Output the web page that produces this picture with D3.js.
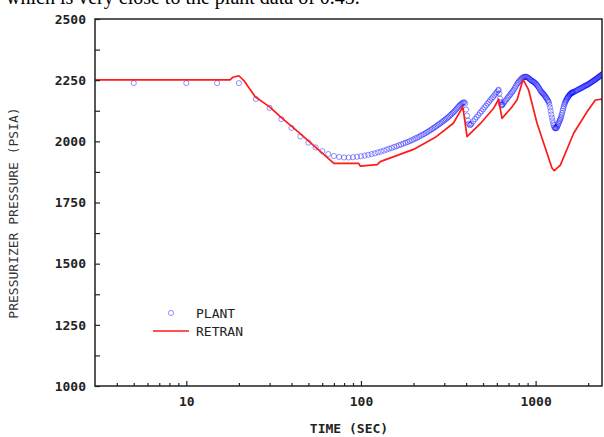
<!DOCTYPE html>
<html>
<head>
<meta charset="utf-8">
<script src="https://cdn.jsdelivr.net/npm/d3@7"></script>
<style>
  html, body { margin: 0; padding: 0; background: #fff; }
  svg { display: block; }
</style>
</head>
<body>
<svg id="chart" width="604" height="437"></svg>
<script>
// ---------------- DATA ----------------
const xMajorTicks = [10, 100, 1000];
const xMinorTicks = [4, 5, 6, 7, 8, 9, 20, 30, 40, 50, 60, 70, 80, 90, 200, 300, 400, 500, 600, 700, 800, 900, 2000];
const yMajorTicks = [1000, 1250, 1500, 1750, 2000, 2250, 2500];
const yMinorTicks = [1125, 1375, 1625, 1875, 2125, 2375];

const seriesNames = ["PLANT", "RETRAN"];

// PLANT measured data (time s, pressure psia)
const plantTime = [
  5, 10, 15, 20, 25, 30, 35, 40, 45, 50, 55, 60, 65, 70, 75, 80, 85, 90, 95, 100,
  105, 110, 115, 120, 125, 130, 135, 140, 145, 150, 155, 160, 165, 170, 175, 180, 185, 190, 195, 200,
  205, 210, 215, 220, 225, 230, 235, 240, 245, 250, 255, 260, 265, 270, 275, 280, 285, 290, 295, 300,
  305, 310, 315, 320, 325, 330, 335, 340, 345, 350, 355, 360, 365, 370, 375, 380, 385, 390, 395, 400,
  405, 410, 415, 420, 425, 430,
  440, 450, 460, 470, 480, 490, 500, 510, 520, 530, 540, 550, 560, 570, 580, 590, 600, 610, 615,
  620, 625, 630, 635, 640, 645, 650, 660, 670, 680, 690, 700, 710, 720, 730, 740, 750,
  760, 770, 780, 790, 800, 810, 820, 830, 840, 850, 860, 870, 880, 890, 900, 910, 920, 930, 940, 950,
  960, 970, 980, 990, 1000, 1010, 1020, 1030, 1040, 1050, 1060, 1070, 1080, 1090, 1100, 1110, 1120, 1130, 1140, 1150,
  1160, 1170, 1180, 1190, 1200, 1210, 1220, 1230, 1240, 1250, 1260, 1270, 1280, 1290, 1300, 1310, 1320, 1330, 1340, 1350,
  1360, 1370, 1380, 1390, 1400, 1410, 1420, 1430, 1440, 1450, 1460, 1470, 1480, 1490, 1500, 1510, 1520, 1530, 1540, 1550,
  1560, 1570, 1580, 1590, 1600, 1610, 1620, 1630, 1640, 1660, 1680, 1700, 1720, 1740, 1760, 1780, 1800, 1820, 1840, 1860,
  1880, 1900, 1920, 1940, 1960, 1980, 2000, 2020, 2040, 2060, 2080, 2100, 2120, 2140, 2160, 2180, 2200, 2220, 2240, 2260,
  2280, 2300, 2320, 2340, 2360, 2380, 2400, 2420, 2440
];
const plantPsia = [
  2238, 2238, 2238, 2238, 2173, 2137, 2091, 2055, 2020, 1995, 1975, 1960, 1948, 1940, 1936, 1934, 1934, 1935, 1937, 1939,
  1942, 1945, 1948, 1951, 1955, 1958, 1962, 1966, 1970, 1973, 1977, 1980, 1984, 1987, 1991, 1994, 1997, 2001, 2004, 2008,
  2012, 2015, 2019, 2023, 2027, 2030, 2034, 2038, 2042, 2046, 2050, 2054, 2058, 2062, 2066, 2070, 2074, 2078, 2082, 2086,
  2090, 2094, 2098, 2102, 2107, 2111, 2116, 2120, 2125, 2130, 2135, 2140, 2145, 2149, 2153, 2156, 2158, 2160, 2155, 2130,
  2105, 2085, 2072, 2066, 2068, 2072,
  2082, 2091, 2099, 2107, 2116, 2123, 2131, 2139, 2146, 2154, 2161, 2168, 2175, 2181, 2188, 2195, 2201, 2208, 2211,
  2195, 2175, 2160, 2150, 2147, 2149, 2153, 2159, 2165, 2171, 2177, 2183, 2188, 2194, 2200, 2205, 2211,
  2218, 2225, 2232, 2238, 2243, 2248, 2252, 2256, 2259, 2262, 2263, 2264, 2264, 2263, 2261, 2259, 2256, 2253, 2250, 2248,
  2246, 2244, 2242, 2239, 2236, 2233, 2229, 2225, 2221, 2216, 2211, 2206, 2202, 2199, 2196, 2193, 2190, 2186, 2182, 2178,
  2174, 2169, 2165, 2160, 2150, 2138, 2124, 2110, 2097, 2085, 2074, 2065, 2058, 2054, 2053, 2054, 2056, 2060, 2065, 2071,
  2077, 2083, 2088, 2093, 2100, 2108, 2116, 2125, 2134, 2142, 2150, 2156, 2162, 2166, 2170, 2174, 2177, 2180, 2183, 2186,
  2189, 2191, 2193, 2195, 2197, 2198, 2199, 2200, 2201, 2203, 2204, 2206, 2208, 2210, 2212, 2214, 2216, 2217, 2219, 2221,
  2223, 2225, 2227, 2228, 2230, 2231, 2233, 2235, 2237, 2239, 2241, 2243, 2245, 2247, 2249, 2251, 2253, 2255, 2257, 2259,
  2261, 2263, 2265, 2267, 2269, 2271, 2273, 2275, 2277
];

// RETRAN calculation (time s, pressure psia)
const retranTime = [3, 17.8, 18.5, 20, 21.5, 24.8, 30, 34.5, 43.7, 70, 97, 99, 124, 129, 200, 270, 338, 383,
  405, 482, 575, 614, 642, 733, 783, 847, 912, 1019, 1163, 1242, 1280, 1386, 1652, 1971, 2200, 2455];
const retranPsia = [2251, 2251, 2262, 2268, 2246, 2182, 2141, 2101, 2039, 1910, 1910, 1899, 1905, 1917, 1967, 2019, 2074, 2141,
  2019, 2072, 2135, 2172, 2094, 2141, 2169, 2253, 2210, 2074, 1951, 1890, 1880, 1903, 2033, 2121, 2169, 2173];

// ---------------- CHART ----------------
const svg = d3.select("#chart");
const mLeft = 95, mRight = 602, mTop = 19, mBottom = 386;

const x = d3.scaleLog().domain([3, 2400]).range([mLeft, mRight]);
const y = d3.scaleLinear().domain([1000, 2500]).range([mBottom, mTop]);

const monoFont = "'DejaVu Sans Mono', 'Liberation Mono', monospace";

// caption fragment above the chart (cut off at the top, as in the source)
svg.append("text")
  .attr("x", 6).attr("y", 4)
  .attr("font-family", "'Liberation Serif', 'Times New Roman', serif")
  .attr("font-size", 20)
  .attr("fill", "#000")
  .text("which is very close to the plant data of 0.45.");

const plot = svg.append("g");
plot.append("clipPath").attr("id", "clip")
  .append("rect").attr("x", mLeft).attr("y", mTop).attr("width", mRight - mLeft).attr("height", mBottom - mTop);

const dataG = plot.append("g").attr("clip-path", "url(#clip)");

// PLANT circles
const plant = plantTime.map((t, i) => ({ t, p: plantPsia[i] }));
dataG.append("g").selectAll("circle").data(plant).join("circle")
  .attr("cx", d => x(d.t)).attr("cy", d => y(d.p))
  .attr("r", 2.6)
  .attr("fill", "none")
  .attr("stroke", "#0000ff")
  .attr("stroke-opacity", 0.42)
  .attr("stroke-width", 1);

// RETRAN line
const retran = retranTime.map((t, i) => ({ t, p: retranPsia[i] }));
dataG.append("path").datum(retran)
  .attr("fill", "none")
  .attr("stroke", "#ff1a1a")
  .attr("stroke-width", 1.7)
  .attr("stroke-linejoin", "round")
  .attr("d", d3.line().x(d => x(d.t)).y(d => y(d.p)));

// Axes
const xAxisMajor = d3.axisBottom(x).tickValues(xMajorTicks).tickSize(-5).tickPadding(11).tickFormat(d3.format("d"));
const xAxisMinor = d3.axisBottom(x).tickValues(xMinorTicks).tickSize(-3).tickFormat("");
const yAxisMajor = d3.axisLeft(y).tickValues(yMajorTicks).tickSize(-5).tickPadding(9).tickFormat(d3.format("d"));
const yAxisMinor = d3.axisLeft(y).tickValues(yMinorTicks).tickSize(-5).tickFormat("");

function styleAxis(g) {
  g.select(".domain").remove();
  g.selectAll(".tick line").attr("stroke", "#222").attr("stroke-width", 1.2);
  g.selectAll(".tick text").attr("font-family", monoFont).attr("font-size", 13)
    .attr("font-weight", "bold").attr("fill", "#222");
}

svg.append("g").attr("transform", `translate(0,${mBottom})`).call(xAxisMinor).call(styleAxis);
svg.append("g").attr("transform", `translate(0,${mBottom})`).call(xAxisMajor).call(styleAxis);
svg.append("g").attr("transform", `translate(${mLeft},0)`).call(yAxisMinor).call(styleAxis);
svg.append("g").attr("transform", `translate(${mLeft},0)`).call(yAxisMajor).call(styleAxis);

// Frame
svg.append("rect")
  .attr("x", mLeft).attr("y", mTop).attr("width", mRight - mLeft).attr("height", mBottom - mTop)
  .attr("fill", "none").attr("stroke", "#222").attr("stroke-width", 1.5);

// Axis titles
svg.append("text")
  .attr("x", 349).attr("y", 433)
  .attr("text-anchor", "middle")
  .attr("font-family", monoFont).attr("font-size", 13).attr("font-weight", "bold").attr("fill", "#222")
  .text("TIME (SEC)");

svg.append("text")
  .attr("transform", "translate(18,213) rotate(-90)")
  .attr("text-anchor", "middle")
  .attr("font-family", monoFont).attr("font-size", 13).attr("fill", "#333")
  .text("PRESSURIZER PRESSURE (PSIA)");

// Legend
const legend = svg.append("g");
legend.append("circle").attr("cx", 171).attr("cy", 313).attr("r", 2.6)
  .attr("fill", "none").attr("stroke", "#0000ff").attr("stroke-opacity", 0.42);
legend.append("text").attr("x", 196).attr("y", 317.5)
  .attr("font-family", monoFont).attr("font-size", 13).attr("fill", "#222")
  .text(seriesNames[0]);
legend.append("line").attr("x1", 153).attr("x2", 189).attr("y1", 331).attr("y2", 331)
  .attr("stroke", "#ff1a1a").attr("stroke-width", 1.7);
legend.append("text").attr("x", 196).attr("y", 335.5)
  .attr("font-family", monoFont).attr("font-size", 13).attr("fill", "#222")
  .text(seriesNames[1]);
</script>
</body>
</html>
